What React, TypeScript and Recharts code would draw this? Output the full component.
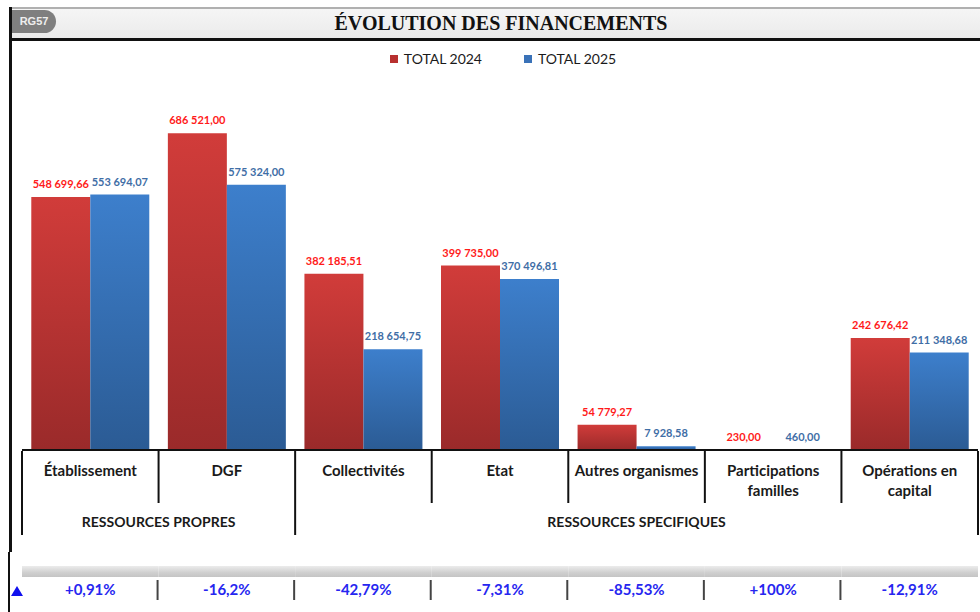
import React from "react";
import { BarChart, Bar, XAxis, YAxis, Legend, LabelList } from "recharts";

const categories = [
  "Établissement",
  "DGF",
  "Collectivités",
  "Etat",
  "Autres organismes",
  "Participations\nfamilles",
  "Opérations en\ncapital",
];
const total2024 = [548699.66, 686521.0, 382185.51, 399735.0, 54779.27, 230.0, 242676.42];
const total2025 = [553694.07, 575324.0, 218654.75, 370496.81, 7928.58, 460.0, 211348.68];
const evolution = ["+0,91%", "-16,2%", "-42,79%", "-7,31%", "-85,53%", "+100%", "-12,91%"];
const groups = [
  { label: "RESSOURCES PROPRES", from: 0, to: 1 },
  { label: "RESSOURCES SPECIFIQUES", from: 2, to: 6 },
];
const seriesNames = ["TOTAL 2024", "TOTAL 2025"];
const title = "ÉVOLUTION DES FINANCEMENTS";
const badge = "RG57";

const data = categories.map((name, i) => ({
  name,
  v2024: total2024[i],
  v2025: total2025[i],
}));

// layout constants
const W = 980;
const H = 612;
const PLOT_LEFT = 22;
const PLOT_RIGHT = 978;
const PLOT_TOP = 81;
const PLOT_BOTTOM = 450;
const CW = (PLOT_RIGHT - PLOT_LEFT) / categories.length;
const FONT = "Lato, 'Open Sans', sans-serif";

const fmt = (v: number) => {
  const [int, dec] = v.toFixed(2).split(".");
  return int.replace(/\B(?=(\d{3})+(?!\d))/g, " ") + "," + dec;
};

const groupEnds = new Set(groups.map((g) => g.to));

const CategoryTick = (props: any) => {
  const { x, payload } = props;
  const i: number = payload.index;
  const lines = String(payload.value).split("\n");
  const left = x - CW / 2;
  const right = x + CW / 2;
  const group = groups.find((g) => g.from === i);
  const ax = PLOT_BOTTOM + 1;
  return (
    <g>
      {lines.map((ln, k) => (
        <text
          key={k}
          x={x}
          y={ax + 25 + k * 20}
          textAnchor="middle"
          fontFamily={FONT}
          fontWeight={700}
          fontSize={15}
          fill="#1a1a1a"
        >
          {ln}
        </text>
      ))}
      {i === 0 && <line x1={left} x2={left} y1={ax} y2={ax + 84} stroke="#111" strokeWidth={2} />}
      <line
        x1={right}
        x2={right}
        y1={ax}
        y2={groupEnds.has(i) ? ax + 84 : ax + 52}
        stroke="#111"
        strokeWidth={2}
      />
      {group && (
        <text
          x={PLOT_LEFT + ((group.from + group.to + 1) / 2) * CW}
          y={ax + 76}
          textAnchor="middle"
          fontFamily={FONT}
          fontWeight={700}
          fontSize={14}
          fill="#1a1a1a"
        >
          {group.label}
        </text>
      )}
      {/* evolution row */}
      <rect x={left} y={566} width={CW} height={11} fill="url(#stripGrad)" />
      <rect x={left + 4} y={577} width={CW - 6} height={25} fill="#ffffff" />
      {i < categories.length - 1 && (
        <line x1={right - 1} x2={right - 1} y1={580} y2={600} stroke="#444" strokeWidth={2} />
      )}
      <text
        x={x}
        y={595}
        textAnchor="middle"
        fontFamily={FONT}
        fontWeight={700}
        fontSize={15}
        fill="#2626f0"
      >
        {evolution[i]}
      </text>
    </g>
  );
};

const makeLabel = (color: string) => (props: any) => {
  const { x, y, width, value } = props;
  return (
    <text
      x={x + width / 2}
      y={y - 9}
      textAnchor="middle"
      fontFamily={FONT}
      fontWeight={700}
      fontSize={11}
      fill={color}
    >
      {fmt(Number(value))}
    </text>
  );
};

const LegendContent = () => (
  <div
    style={{
      display: "flex",
      justifyContent: "center",
      gap: 42,
      fontFamily: FONT,
      fontSize: 14,
      color: "#1a1a1a",
      paddingLeft: 26,
    }}
  >
    {seriesNames.map((n, k) => (
      <div key={n} style={{ display: "flex", alignItems: "center" }}>
        <span
          style={{
            display: "inline-block",
            width: 8,
            height: 8,
            marginRight: 6,
            background: k === 0 ? "#b8302f" : "#3a72b8",
          }}
        />
        {n}
      </div>
    ))}
  </div>
);

export default function App() {
  return (
    <div style={{ position: "absolute", left: 0, top: 0, width: W, height: H, background: "#fff", overflow: "hidden" }}>
      <BarChart
        width={W}
        height={H}
        data={data}
        margin={{ top: PLOT_TOP, right: W - PLOT_RIGHT, left: PLOT_LEFT, bottom: 0 }}
        barCategoryGap="6.8%"
        barGap={0}
      >
        <defs>
          <linearGradient id="redGrad" x1="0" y1="0" x2="0" y2="1">
            <stop offset="0%" stopColor="#d13c3a" />
            <stop offset="100%" stopColor="#9a2a2a" />
          </linearGradient>
          <linearGradient id="blueGrad" x1="0" y1="0" x2="0" y2="1">
            <stop offset="0%" stopColor="#3d7fcc" />
            <stop offset="100%" stopColor="#2b5b94" />
          </linearGradient>
          <linearGradient id="stripGrad" x1="0" y1="0" x2="0" y2="1">
            <stop offset="0%" stopColor="#ececec" />
            <stop offset="60%" stopColor="#cfcfcf" />
            <stop offset="100%" stopColor="#c4c4c4" />
          </linearGradient>
        </defs>
        <YAxis hide domain={[0, 800000]} type="number" />
        <XAxis
          dataKey="name"
          height={H - PLOT_BOTTOM}
          axisLine={{ stroke: "#111", strokeWidth: 2 }}
          tickLine={false}
          interval={0}
          tick={<CategoryTick />}
        />
        <Legend
          verticalAlign="middle"
          align="center"
          content={<LegendContent />}
          wrapperStyle={{ top: 50, left: 0, width: W }}
        />
        <Bar dataKey="v2024" name={seriesNames[0]} fill="url(#redGrad)" isAnimationActive={false}>
          <LabelList dataKey="v2024" content={makeLabel("#ff1a1a")} />
        </Bar>
        <Bar dataKey="v2025" name={seriesNames[1]} fill="url(#blueGrad)" isAnimationActive={false}>
          <LabelList dataKey="v2025" content={makeLabel("#3f6ea6")} />
        </Bar>
      </BarChart>

      {/* title bar */}
      <div
        style={{
          position: "absolute",
          left: 10,
          top: 7,
          width: W - 10,
          height: 29,
          background: "linear-gradient(#f5f5f5, #ebebeb)",
          borderTop: "2px solid #b0b0b0",
          borderBottom: "3px solid #111",
        }}
      >
        <div
          style={{
            position: "absolute",
            left: 2,
            top: 1,
            width: 44,
            height: 23,
            borderRadius: "0 12px 12px 0",
            background: "#7f7f7f",
            color: "#eeeeee",
            fontFamily: "'Liberation Sans Narrow', 'Liberation Sans', sans-serif",
            fontWeight: 700,
            fontSize: 11,
            lineHeight: "23px",
            textAlign: "center",
          }}
        >
          {badge}
        </div>
        <div
          style={{
            position: "absolute",
            left: 0,
            width: W - 10 + 12,
            top: 0,
            textAlign: "center",
            fontFamily: "'Liberation Serif', serif",
            fontWeight: 700,
            fontSize: 20,
            lineHeight: "29px",
            color: "#111",
          }}
        >
          {title}
        </div>
      </div>
      {/* left border */}
      <div style={{ position: "absolute", left: 9, top: 7, width: 2.5, height: 545, background: "#111" }} />
      <div style={{ position: "absolute", left: 7.5, top: 552, width: 2, height: 60, background: "#111" }} />
      {/* evolution marker */}
      <svg style={{ position: "absolute", left: 0, top: 0, pointerEvents: "none" }} width={W} height={H}>
        <polygon points="11,596 23,596 17,586" fill="#1010ee" />
      </svg>
    </div>
  );
}
